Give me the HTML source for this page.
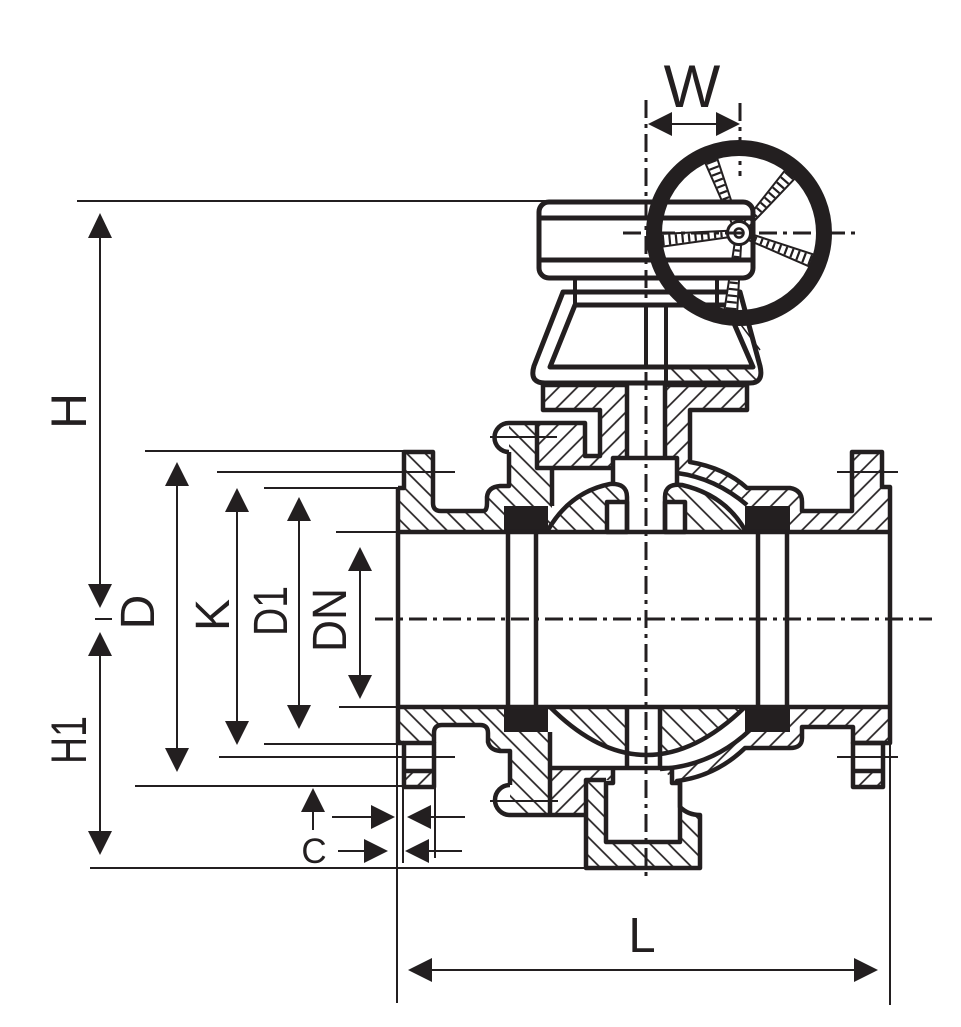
<!DOCTYPE html>
<html><head><meta charset="utf-8">
<style>
html,body{margin:0;padding:0;background:#fff;}
svg{display:block;}
text{font-family:"Liberation Sans",sans-serif;fill:#231f20;}
</style></head><body>
<svg width="961" height="1027" viewBox="0 0 961 1027" xmlns="http://www.w3.org/2000/svg" xmlns:xlink="http://www.w3.org/1999/xlink">
<defs>
<pattern id="hs" width="13" height="13" patternUnits="userSpaceOnUse" patternTransform="rotate(45)"><line x1="6" y1="0" x2="6" y2="13" stroke="#231f20" stroke-width="1.7"/></pattern>
<pattern id="hb" width="13" height="13" patternUnits="userSpaceOnUse" patternTransform="rotate(-45)"><line x1="6" y1="0" x2="6" y2="13" stroke="#231f20" stroke-width="1.7"/></pattern>
<clipPath id="spclip"><polygon points="10,-2.2 80,-5.5 80,5.5 10,2.2"/></clipPath>
<g id="spoke">
<polygon points="10,-4.2 80,-7.5 80,7.5 10,4.2" fill="#231f20"/>
<polygon points="10,-2.2 80,-5.5 80,5.5 10,2.2" fill="#fff"/>
<line x1="10" y1="0" x2="80" y2="0" stroke="#231f20" stroke-width="16" stroke-dasharray="2.2 4.3" clip-path="url(#spclip)"/>
</g>
</defs>
<rect width="961" height="1027" fill="#fff"/>

<!-- Yoke -->
<g stroke="#231f20" stroke-width="5" stroke-linejoin="round">
<path d="M563,292 H740 L760,366 Q764,383 750,383 H545 Q529,383 534,366 Z" fill="#fff"/>
<path d="M575,305 H726 L753,367 H550 Z" fill="#fff"/>
</g>
<path d="M666,369 H754 L758,372 Q760,381 750,381 H666 Z" fill="url(#hb)"/>
<g stroke="#231f20" stroke-width="4" fill="none">
<path d="M646,305 V367 M666,305 V385"/>
<path d="M575,277 V305 M717,277 V305"/>
</g>

<!-- Hatched regions -->
<g stroke="none">
<path fill="url(#hb)" d="M398,532 V488 H404 V452 H433 V503 Q433,511 441,511 H483 Q487,511 487,503 V497 Q488,487 500,486 H509 V423 H537 V468 H552 V532 Z"/>
<path fill="url(#hs)" d="M537,423 H585 V456 H615 V468 H537 Z"/>
<path fill="url(#hs)" d="M543,385 H627 V458 H600 V410 H543 Z"/>
<path fill="url(#hs)" d="M665,385 H747 V410 H690 V462 H677 V458 H665 Z"/>
<path fill="url(#hs)" d="M677,462 H690 Q725,468 747,488 V505 Q715,478 677,473 Z"/>
<path fill="url(#hs)" d="M747,488 H790 Q802,490 802,502 V511 H852 V452 H882 V487 H890 V532 H745 V505 Z"/>
<path fill="url(#hb)" d="M548,530 Q570,492 610,484 Q627,483 627,497 V502 H607 V532 Z"/>
<path fill="url(#hb)" d="M665,497 Q665,483 682,485 Q725,495 745,530 V532 H685 V502 H665 Z"/>
<path fill="url(#hb)" d="M550,707 Q646,803 745,707 Z"/>
<rect x="627" y="707" width="33" height="60" fill="#fff"/>
<path fill="url(#hb)" d="M398,707 H504 V732 H550 V815 H510 V751 H500 Q490,750 488,742 V733 Q488,725 480,725 H442 Q434,725 434,733 V743 H398 Z"/>
<path fill="url(#hs)" d="M550,768 H613 V780 H586 V815 H550 Z"/>
<path fill="url(#hb)" d="M586,780 H606 V842 H680 V807 Q688,815 700,815 V868 H586 Z"/>
<path fill="url(#hs)" d="M745,707 H890 V743 H853 V727 H802 V738 Q802,748 790,748 H745 Z"/>
<path fill="url(#hs)" d="M750,730 Q712,766 660,769 L677,781 Q716,776 745,748 Z"/>
<path fill="url(#hs)" d="M404,771 H434 V787 H404 Z"/>
<path fill="url(#hs)" d="M853,771 H883 V787 H853 Z"/>
</g>

<!-- Seats -->
<g fill="#231f20">
<rect x="504" y="506" width="44" height="26"/>
<rect x="745" y="506" width="45" height="26"/>
<rect x="504" y="707" width="44" height="25"/>
<rect x="745" y="707" width="45" height="25"/>
</g>

<!-- Thick outlines -->
<g fill="none" stroke="#231f20" stroke-width="4.5" stroke-linejoin="round">
<path d="M398,488 V743 H404"/>
<path d="M398,488 H404 V452 H433 V503 Q433,511 441,511 H483 Q487,511 487,503 V497 Q488,487 500,486 H509 V452"/>
<path d="M509,452 A14.5,14.5 0 0 1 509,423"/>
<path d="M509,423 H585 V456 H600 V410 H543 V385 H627 V458"/>
<path d="M537,423 V468 H615"/>
<path d="M552,468 V506"/>
<path d="M613,484 V458 H677 V484"/>
<path d="M627,497 V532 M665,497 V532"/>
<rect x="607" y="502" width="20" height="30"/>
<rect x="665" y="502" width="20" height="30"/>
<path d="M548,530 Q570,492 610,484 Q627,483 627,497"/>
<path d="M665,497 Q665,483 682,485 Q725,495 745,530"/>
<path d="M665,385 H747 V410 H690 V462 Q725,468 747,488 H790 Q802,490 802,502 V511 H852 V452 H882 V487 H890 V743 H853 V727 H802 V738 Q802,748 790,748 H745 Q716,776 677,781 L680,783 V807 Q688,815 700,815 V868 H586 V780 H606"/>
<path d="M677,473 Q715,478 747,505"/>
<path d="M665,385 V458"/>
<path d="M398,532 H890 M398,707 H890"/>
<path d="M508,532 V707 M536,532 V707 M758,532 V707 M787,532 V707"/>
<path d="M434,743 V733 Q434,725 442,725 H480 Q488,725 488,733 V742 Q490,750 500,751 H510 V785"/>
<path d="M510,785 A15,15 0 0 0 510,815 H586"/>
<rect x="404" y="743" width="30" height="44"/>
<path d="M404,771 H434"/>
<rect x="853" y="743" width="30" height="44"/>
<path d="M853,771 H883"/>
<path d="M550,732 V815"/>
<path d="M550,768 H672"/>
<path d="M613,768 V783 H606 V842 H680 V783 H672 V768"/>
<path d="M627,707 V767 M660,707 V767"/>
<path d="M550,707 Q646,803 745,707"/>
<path d="M750,730 Q712,766 660,769"/>
</g>
<path d="M726,305 L760,350" stroke="#231f20" stroke-width="1.5"/>

<!-- Handwheel spokes (behind gearbox bands) -->
<use xlink:href="#spoke" href="#spoke" transform="translate(739,233) rotate(174.6)"/>
<use xlink:href="#spoke" href="#spoke" transform="translate(739,233) rotate(249)"/>
<use xlink:href="#spoke" href="#spoke" transform="translate(739,233) rotate(311)"/>
<use xlink:href="#spoke" href="#spoke" transform="translate(739,233) rotate(20.8)"/>
<use xlink:href="#spoke" href="#spoke" transform="translate(739,233) rotate(96)"/>

<!-- Gearbox -->
<g stroke="#231f20" stroke-width="5">
<path d="M549,202 H743 Q753,202 753,212 V218 H539 V212 Q539,202 549,202 Z" fill="#fff" stroke="none"/>
<path d="M539,260 H753 V268 Q753,278 743,278 H549 Q539,278 539,268 Z" fill="#fff" stroke="none"/>
<rect x="539" y="202" width="214" height="76" rx="10" fill="none"/>
<path d="M539,218 H753 M539,260 H753" fill="none"/>
</g>

<circle cx="739" cy="233" r="85" fill="none" stroke="#231f20" stroke-width="16"/>
<circle cx="739" cy="233" r="11.5" fill="#fff" stroke="#231f20" stroke-width="3"/>
<circle cx="739" cy="233" r="4.5" fill="#fff" stroke="#231f20" stroke-width="2.5"/>

<!-- Centerlines -->
<g stroke="#231f20" stroke-width="3" fill="none" stroke-dasharray="18 6 4 6">
<path d="M646,100 V876"/>
<path d="M375,619 H932"/>
<path d="M740,103 V176"/>
<path d="M623,233 H855"/>
</g>

<!-- Thin dimension lines -->
<g stroke="#231f20" stroke-width="2" fill="none">
<path d="M77,201 H625"/>
<path d="M100,236 V586"/>
<path d="M95,619 H112"/>
<path d="M100,654 V833"/>
<path d="M90,868 H586"/>
<path d="M145,451 H404"/>
<path d="M135,786 H404"/>
<path d="M217,472 H455 M837,472 H898"/>
<path d="M219,757 H455 M837,757 H898"/>
<path d="M264,488 H398"/>
<path d="M264,744 H403"/>
<path d="M336,532 H398"/>
<path d="M339,707 H398"/>
<path d="M177,484 V750"/>
<path d="M237,510 V723"/>
<path d="M299,519 V707"/>
<path d="M360,569 V677"/>
<path d="M313,810 V830"/>
<path d="M332,817 H373 M429,817 H465"/>
<path d="M338,851 H366 M427,851 H462"/>
<path d="M397,743 V1003"/>
<path d="M403,787 V863"/>
<path d="M435,787 V858"/>
<path d="M890,743 V1005"/>
<path d="M430,970 H856"/>
<path d="M670,124 H718"/>
<path d="M490,437 H557"/>
<path d="M490,801 H558"/>
</g>

<!-- Arrowheads -->
<g fill="#231f20">
<polygon points="100,213 88,238 112,238"/>
<polygon points="100,608 88,584 112,584"/>
<polygon points="100,632 88,656 112,656"/>
<polygon points="100,855 88,831 112,831"/>
<polygon points="177,462 165,486 189,486"/>
<polygon points="177,772 165,748 189,748"/>
<polygon points="237,488 225,512 249,512"/>
<polygon points="237,745 225,721 249,721"/>
<polygon points="299,497 287,521 311,521"/>
<polygon points="299,729 287,705 311,705"/>
<polygon points="360,547 348,571 372,571"/>
<polygon points="360,699 348,675 372,675"/>
<polygon points="313,788 301,812 325,812"/>
<polygon points="395,817 371,805 371,829"/>
<polygon points="407,817 431,805 431,829"/>
<polygon points="388,851 364,839 364,863"/>
<polygon points="405,851 429,839 429,863"/>
<polygon points="408,970 432,958 432,982"/>
<polygon points="878,970 854,958 854,982"/>
<polygon points="648,124 672,112 672,136"/>
<polygon points="740,124 716,112 716,136"/>
</g>

<!-- Labels -->
<text x="692" y="107" font-size="60" text-anchor="middle">W</text>
<text x="642" y="952" font-size="49" text-anchor="middle">L</text>
<text x="314" y="863" font-size="35" text-anchor="middle">C</text>
<text transform="translate(68,411) rotate(-90)" x="0" y="18" font-size="50" text-anchor="middle">H</text>
<text transform="translate(68,740) rotate(-90)" x="0" y="18" font-size="50" text-anchor="middle" textLength="48" lengthAdjust="spacingAndGlyphs">H1</text>
<text transform="translate(137,612) rotate(-90)" x="0" y="17" font-size="48" text-anchor="middle">D</text>
<text transform="translate(212,615) rotate(-90)" x="0" y="17" font-size="48" text-anchor="middle">K</text>
<text transform="translate(270,611) rotate(-90)" x="0" y="17" font-size="48" text-anchor="middle" textLength="50" lengthAdjust="spacingAndGlyphs">D1</text>
<text transform="translate(329,620) rotate(-90)" x="0" y="17" font-size="48" text-anchor="middle" textLength="64" lengthAdjust="spacingAndGlyphs">DN</text>
</svg>
</body></html>
